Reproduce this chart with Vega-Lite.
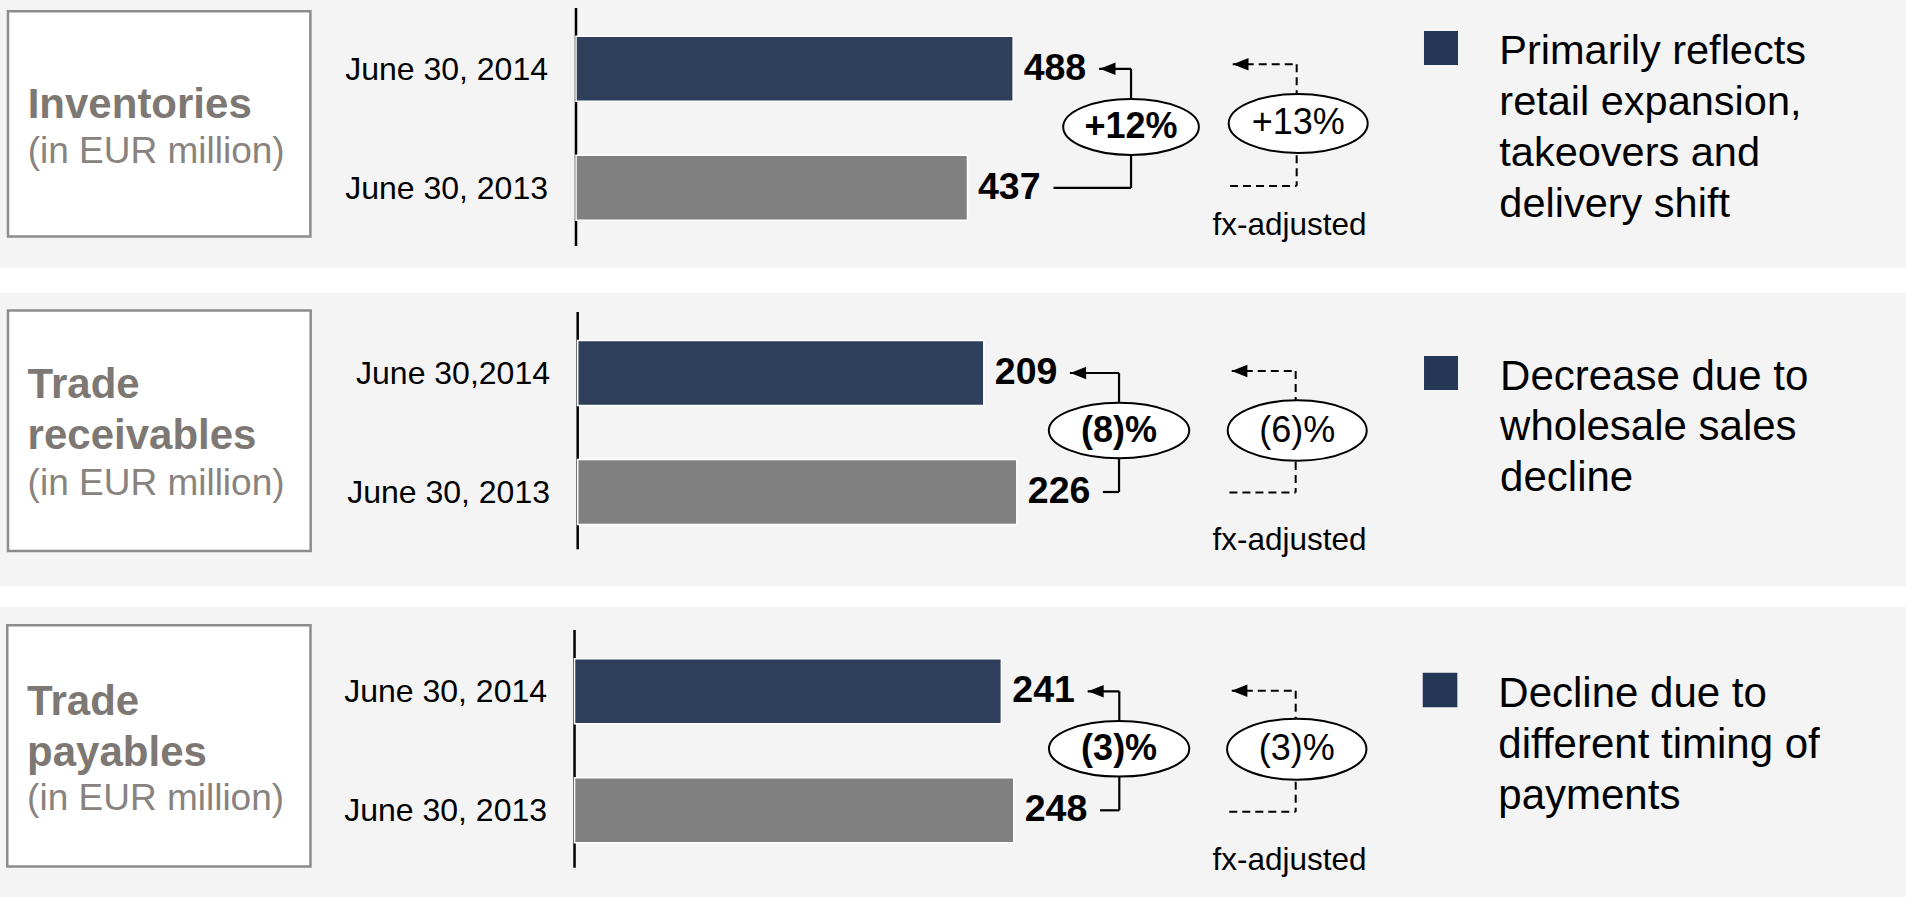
{
  "$schema": "https://vega.github.io/schema/vega-lite/v6.json",
  "background": "#ffffff",
  "padding": 0,
  "spacing": 0,
  "config": {"view": {"stroke": null}, "font": "Liberation Sans"},
  "resolve": {"scale": {"x": "independent", "y": "independent"}},
  "datasets": {
    "inv": [
      {"date": "June 30, 2014", "year": 2014, "value": 488},
      {"date": "June 30, 2013", "year": 2013, "value": 437}
    ],
    "inv_info": [
      {"title": ["Inventories"], "unit": "(in EUR million)", "reported": "+12%", "fx": "+13%", "fxLabel": "fx-adjusted", "desc": ["Primarily reflects", "retail expansion,", "takeovers and", "delivery shift"]}
    ],
    "rec": [
      {"date": "June 30,2014", "year": 2014, "value": 209},
      {"date": "June 30, 2013", "year": 2013, "value": 226}
    ],
    "rec_info": [
      {"title": ["Trade", "receivables"], "unit": "(in EUR million)", "reported": "(8)%", "fx": "(6)%", "fxLabel": "fx-adjusted", "desc": ["Decrease due to", "wholesale sales", "decline"]}
    ],
    "pay": [
      {"date": "June 30, 2014", "year": 2014, "value": 241},
      {"date": "June 30, 2013", "year": 2013, "value": 248}
    ],
    "pay_info": [
      {"title": ["Trade", "payables"], "unit": "(in EUR million)", "reported": "(3)%", "fx": "(3)%", "fxLabel": "fx-adjusted", "desc": ["Decline due to", "different timing of", "payments"]}
    ]
  },
  "vconcat": [
    {
      "width": 1906, "height": 268,
      "view": {"fill": "#f4f4f4", "stroke": null},
      "layer": [
        {"data": {"name": "inv_info"}, "mark": {"type": "point", "shape": "M-1,-0.7447L1,-0.7447L1,0.7447L-1,0.7447Z", "size": 91446, "filled": true, "fill": "#ffffff", "stroke": "#8c8c8c", "strokeWidth": 2.5, "opacity": 1, "yOffset": 55.05},
         "encoding": {"x": {"datum": -465.3, "type": "quantitative", "axis": null}, "y": {"datum": "June 30, 2014", "type": "nominal", "axis": null}}},
        {"data": {"name": "inv_info"}, "mark": {"type": "text", "align": "left", "baseline": "alphabetic", "fontSize": 42, "fontWeight": "bold", "color": "#7d7873", "lineHeight": 51, "dy": 49.5},
         "encoding": {"x": {"datum": -612.1, "type": "quantitative", "axis": null}, "y": {"datum": "June 30, 2014", "type": "nominal", "axis": null}, "text": {"field": "title", "type": "nominal"}}},
        {"data": {"name": "inv_info"}, "mark": {"type": "text", "align": "left", "baseline": "alphabetic", "fontSize": 37, "color": "#88837e", "dy": 94.5},
         "encoding": {"x": {"datum": -612.1, "type": "quantitative", "axis": null}, "y": {"datum": "June 30, 2014", "type": "nominal", "axis": null}, "text": {"field": "unit", "type": "nominal"}}},
        {"data": {"name": "inv_info"}, "mark": {"type": "rule", "color": "#000000", "strokeWidth": 2.5, "yOffset": -60.8, "y2Offset": 58.2},
         "encoding": {"x": {"datum": 0, "type": "quantitative", "axis": null}, "y": {"datum": "June 30, 2014", "type": "nominal", "axis": null}, "y2": {"datum": "June 30, 2013"}}},
        {"data": {"name": "inv"}, "mark": {"type": "bar", "size": 65, "stroke": "#ffffff", "strokeWidth": 1.5},
         "encoding": {
           "x": {"field": "value", "type": "quantitative", "scale": {"domain": [-643.0, 1484.7], "nice": false, "zero": false}, "axis": null},
           "x2": {"datum": 0},
           "y": {"field": "date", "type": "nominal", "sort": null, "scale": {"type": "point", "domain": ["June 30, 2014", "June 30, 2013"], "padding": 0.6261, "align": 0.4617}, "axis": null},
           "color": {"field": "year", "type": "ordinal", "scale": {"domain": [2014, 2013], "range": ["#2d3f5b", "#808080"]}, "legend": null}
         }},
        {"data": {"name": "inv"}, "mark": {"type": "text", "align": "right", "baseline": "alphabetic", "fontSize": 32, "color": "#000000", "dx": -28, "dy": 11},
         "encoding": {"x": {"datum": 0, "type": "quantitative", "axis": null}, "y": {"field": "date", "type": "nominal", "axis": null}, "text": {"field": "date", "type": "nominal"}}},
        {"data": {"name": "inv"}, "mark": {"type": "text", "align": "left", "baseline": "alphabetic", "fontSize": 37.5, "fontWeight": "bold", "color": "#000000", "dx": 10.5, "dy": 11},
         "encoding": {"x": {"field": "value", "type": "quantitative", "axis": null}, "y": {"field": "date", "type": "nominal", "axis": null}, "text": {"field": "value", "type": "quantitative", "format": "d"}}},
        {"data": {"name": "inv"}, "mark": {"type": "rule", "color": "#000000", "strokeWidth": 2.2, "xOffset": 86},
         "encoding": {"x": {"field": "value", "type": "quantitative", "axis": null}, "x2": {"datum": 619.6}, "y": {"field": "date", "type": "nominal", "axis": null}}},
        {"data": {"name": "inv_info"}, "mark": {"type": "rule", "color": "#000000", "strokeWidth": 2.2},
         "encoding": {"x": {"datum": 619.6, "type": "quantitative", "axis": null}, "y": {"datum": "June 30, 2014", "type": "nominal", "axis": null}, "y2": {"datum": "June 30, 2013"}}},
        {"data": {"name": "inv"}, "transform": [{"filter": "datum.year == 2014"}], "mark": {"type": "point", "shape": "M-1,0L1,-0.79L1,0.79Z", "size": 246, "filled": true, "color": "#000000", "opacity": 1, "xOffset": 94.5},
         "encoding": {"x": {"field": "value", "type": "quantitative", "axis": null}, "y": {"field": "date", "type": "nominal", "axis": null}}},
        {"data": {"name": "inv_info"}, "mark": {"type": "point", "shape": "M-1,0C-1,-0.2279,-0.5523,-0.4127,0,-0.4127C0.5523,-0.4127,1,-0.2279,1,0C1,0.2279,0.5523,0.4127,0,0.4127C-0.5523,0.4127,-1,0.2279,-1,0Z", "size": 18414, "filled": true, "fill": "#ffffff", "stroke": "#000000", "strokeWidth": 2, "opacity": 1, "yOffset": 58.2},
         "encoding": {"x": {"datum": 619.6, "type": "quantitative", "axis": null}, "y": {"datum": "June 30, 2014", "type": "nominal", "axis": null}}},
        {"data": {"name": "inv_info"}, "mark": {"type": "text", "align": "center", "baseline": "middle", "fontSize": 36, "fontWeight": "bold", "color": "#000000", "dy": 58.2},
         "encoding": {"x": {"datum": 619.6, "type": "quantitative", "axis": null}, "y": {"datum": "June 30, 2014", "type": "nominal", "axis": null}, "text": {"field": "reported", "type": "nominal"}}},
        {"data": {"name": "inv_info"}, "mark": {"type": "rule", "color": "#000000", "strokeWidth": 2, "strokeDash": [8, 5], "yOffset": -4.5, "y2Offset": -1.8},
         "encoding": {"x": {"datum": 804.5, "type": "quantitative", "axis": null}, "y": {"datum": "June 30, 2014", "type": "nominal", "axis": null}, "y2": {"datum": "June 30, 2013"}}},
        {"data": {"name": "inv_info"}, "mark": {"type": "rule", "color": "#000000", "strokeWidth": 2, "strokeDash": [8, 5], "yOffset": -4.5},
         "encoding": {"x": {"datum": 733.1, "type": "quantitative", "axis": null}, "x2": {"datum": 804.5}, "y": {"datum": "June 30, 2014", "type": "nominal", "axis": null}}},
        {"data": {"name": "inv_info"}, "mark": {"type": "rule", "color": "#000000", "strokeWidth": 2, "strokeDash": [8, 5], "yOffset": -1.8},
         "encoding": {"x": {"datum": 730.1, "type": "quantitative", "axis": null}, "x2": {"datum": 804.5}, "y": {"datum": "June 30, 2013", "type": "nominal", "axis": null}}},
        {"data": {"name": "inv_info"}, "mark": {"type": "point", "shape": "M-1,0L1,-0.79L1,0.79Z", "size": 246, "filled": true, "color": "#000000", "opacity": 1, "yOffset": -4.5},
         "encoding": {"x": {"datum": 742.0, "type": "quantitative", "axis": null}, "y": {"datum": "June 30, 2014", "type": "nominal", "axis": null}}},
        {"data": {"name": "inv_info"}, "mark": {"type": "point", "shape": "M-1,0C-1,-0.2345,-0.5523,-0.4245,0,-0.4245C0.5523,-0.4245,1,-0.2345,1,0C1,0.2345,0.5523,0.4245,0,0.4245C-0.5523,0.4245,-1,0.2345,-1,0Z", "size": 19321, "filled": true, "fill": "#ffffff", "stroke": "#000000", "strokeWidth": 2, "opacity": 1, "yOffset": 54.7},
         "encoding": {"x": {"datum": 806.2, "type": "quantitative", "axis": null}, "y": {"datum": "June 30, 2014", "type": "nominal", "axis": null}}},
        {"data": {"name": "inv_info"}, "mark": {"type": "text", "align": "center", "baseline": "middle", "fontSize": 36, "color": "#000000", "dy": 54.7},
         "encoding": {"x": {"datum": 806.2, "type": "quantitative", "axis": null}, "y": {"datum": "June 30, 2014", "type": "nominal", "axis": null}, "text": {"field": "fx", "type": "nominal"}}},
        {"data": {"name": "inv_info"}, "mark": {"type": "text", "align": "center", "baseline": "alphabetic", "fontSize": 31.5, "color": "#000000", "dy": 47.2},
         "encoding": {"x": {"datum": 796.6, "type": "quantitative", "axis": null}, "y": {"datum": "June 30, 2013", "type": "nominal", "axis": null}, "text": {"field": "fxLabel", "type": "nominal"}}},
        {"data": {"name": "inv_info"}, "mark": {"type": "point", "shape": "square", "size": 1156, "filled": true, "color": "#253757", "opacity": 1, "yOffset": -20.8},
         "encoding": {"x": {"datum": 965.6, "type": "quantitative", "axis": null}, "y": {"datum": "June 30, 2014", "type": "nominal", "axis": null}}},
        {"data": {"name": "inv_info"}, "mark": {"type": "text", "align": "left", "baseline": "alphabetic", "fontSize": 41.5, "color": "#000000", "lineHeight": 51, "dy": -4.8},
         "encoding": {"x": {"datum": 1030.7, "type": "quantitative", "axis": null}, "y": {"datum": "June 30, 2014", "type": "nominal", "axis": null}, "text": {"field": "desc", "type": "nominal"}}}
      ]
    },
    {
      "width": 1906, "height": 25,
      "data": {"name": "inv_info"},
      "mark": {"type": "text", "text": " "},
      "encoding": {}
    },
    {
      "width": 1906, "height": 293,
      "view": {"fill": "#f4f4f4", "stroke": null},
      "layer": [
        {"data": {"name": "rec_info"}, "mark": {"type": "point", "shape": "M-1,-0.7945L1,-0.7945L1,0.7945L-1,0.7945Z", "size": 91627, "filled": true, "fill": "#ffffff", "stroke": "#8c8c8c", "strokeWidth": 2.5, "opacity": 1, "yOffset": 57.8},
         "encoding": {"x": {"datum": -215.3, "type": "quantitative", "axis": null}, "y": {"datum": "June 30,2014", "type": "nominal", "axis": null}}},
        {"data": {"name": "rec_info"}, "mark": {"type": "text", "align": "left", "baseline": "alphabetic", "fontSize": 42, "fontWeight": "bold", "color": "#7d7873", "lineHeight": 51, "dy": 25.3},
         "encoding": {"x": {"datum": -283.1, "type": "quantitative", "axis": null}, "y": {"datum": "June 30,2014", "type": "nominal", "axis": null}, "text": {"field": "title", "type": "nominal"}}},
        {"data": {"name": "rec_info"}, "mark": {"type": "text", "align": "left", "baseline": "alphabetic", "fontSize": 37, "color": "#88837e", "dy": 122},
         "encoding": {"x": {"datum": -283.1, "type": "quantitative", "axis": null}, "y": {"datum": "June 30,2014", "type": "nominal", "axis": null}, "text": {"field": "unit", "type": "nominal"}}},
        {"data": {"name": "rec_info"}, "mark": {"type": "rule", "color": "#000000", "strokeWidth": 2.5, "yOffset": -61, "y2Offset": 57.3},
         "encoding": {"x": {"datum": 0, "type": "quantitative", "axis": null}, "y": {"datum": "June 30,2014", "type": "nominal", "axis": null}, "y2": {"datum": "June 30, 2013"}}},
        {"data": {"name": "rec"}, "mark": {"type": "bar", "size": 65, "stroke": "#ffffff", "strokeWidth": 1.5},
         "encoding": {
           "x": {"field": "value", "type": "quantitative", "scale": {"domain": [-297.3, 683.6], "nice": false, "zero": false}, "axis": null},
           "x2": {"datum": 0},
           "y": {"field": "date", "type": "nominal", "sort": null, "scale": {"type": "point", "domain": ["June 30,2014", "June 30, 2013"], "padding": 0.7311, "align": 0.4598}, "axis": null},
           "color": {"field": "year", "type": "ordinal", "scale": {"domain": [2014, 2013], "range": ["#2d3f5b", "#808080"]}, "legend": null}
         }},
        {"data": {"name": "rec"}, "mark": {"type": "text", "align": "right", "baseline": "alphabetic", "fontSize": 32, "color": "#000000", "dx": -27.7, "dy": 11},
         "encoding": {"x": {"datum": 0, "type": "quantitative", "axis": null}, "y": {"field": "date", "type": "nominal", "axis": null}, "text": {"field": "date", "type": "nominal"}}},
        {"data": {"name": "rec"}, "mark": {"type": "text", "align": "left", "baseline": "alphabetic", "fontSize": 37.5, "fontWeight": "bold", "color": "#000000", "dx": 11, "dy": 11.3},
         "encoding": {"x": {"field": "value", "type": "quantitative", "axis": null}, "y": {"field": "date", "type": "nominal", "axis": null}, "text": {"field": "value", "type": "quantitative", "format": "d"}}},
        {"data": {"name": "rec"}, "mark": {"type": "rule", "color": "#000000", "strokeWidth": 2.2, "xOffset": 86},
         "encoding": {"x": {"field": "value", "type": "quantitative", "axis": null}, "x2": {"datum": 278.6}, "y": {"field": "date", "type": "nominal", "axis": null}}},
        {"data": {"name": "rec_info"}, "mark": {"type": "rule", "color": "#000000", "strokeWidth": 2.2},
         "encoding": {"x": {"datum": 278.6, "type": "quantitative", "axis": null}, "y": {"datum": "June 30,2014", "type": "nominal", "axis": null}, "y2": {"datum": "June 30, 2013"}}},
        {"data": {"name": "rec"}, "transform": [{"filter": "datum.year == 2014"}], "mark": {"type": "point", "shape": "M-1,0L1,-0.79L1,0.79Z", "size": 246, "filled": true, "color": "#000000", "opacity": 1, "xOffset": 94.5},
         "encoding": {"x": {"field": "value", "type": "quantitative", "axis": null}, "y": {"field": "date", "type": "nominal", "axis": null}}},
        {"data": {"name": "rec_info"}, "mark": {"type": "point", "shape": "M-1,0C-1,-0.2187,-0.5523,-0.396,0,-0.396C0.5523,-0.396,1,-0.2187,1,0C1,0.2187,0.5523,0.396,0,0.396C-0.5523,0.396,-1,0.2187,-1,0Z", "size": 19712, "filled": true, "fill": "#ffffff", "stroke": "#000000", "strokeWidth": 2, "opacity": 1, "yOffset": 57.5},
         "encoding": {"x": {"datum": 278.6, "type": "quantitative", "axis": null}, "y": {"datum": "June 30,2014", "type": "nominal", "axis": null}}},
        {"data": {"name": "rec_info"}, "mark": {"type": "text", "align": "center", "baseline": "middle", "fontSize": 36, "fontWeight": "bold", "color": "#000000", "dy": 57.5},
         "encoding": {"x": {"datum": 278.6, "type": "quantitative", "axis": null}, "y": {"datum": "June 30,2014", "type": "nominal", "axis": null}, "text": {"field": "reported", "type": "nominal"}}},
        {"data": {"name": "rec_info"}, "mark": {"type": "rule", "color": "#000000", "strokeWidth": 2, "strokeDash": [8, 5], "yOffset": -2, "y2Offset": 0.6},
         "encoding": {"x": {"datum": 369.5, "type": "quantitative", "axis": null}, "y": {"datum": "June 30,2014", "type": "nominal", "axis": null}, "y2": {"datum": "June 30, 2013"}}},
        {"data": {"name": "rec_info"}, "mark": {"type": "rule", "color": "#000000", "strokeWidth": 2, "strokeDash": [8, 5], "yOffset": -2},
         "encoding": {"x": {"datum": 336.6, "type": "quantitative", "axis": null}, "x2": {"datum": 369.5}, "y": {"datum": "June 30,2014", "type": "nominal", "axis": null}}},
        {"data": {"name": "rec_info"}, "mark": {"type": "rule", "color": "#000000", "strokeWidth": 2, "strokeDash": [8, 5], "yOffset": 0.6},
         "encoding": {"x": {"datum": 335.4, "type": "quantitative", "axis": null}, "x2": {"datum": 369.5}, "y": {"datum": "June 30, 2013", "type": "nominal", "axis": null}}},
        {"data": {"name": "rec_info"}, "mark": {"type": "point", "shape": "M-1,0L1,-0.79L1,0.79Z", "size": 246, "filled": true, "color": "#000000", "opacity": 1, "yOffset": -2},
         "encoding": {"x": {"datum": 340.6, "type": "quantitative", "axis": null}, "y": {"datum": "June 30,2014", "type": "nominal", "axis": null}}},
        {"data": {"name": "rec_info"}, "mark": {"type": "point", "shape": "M-1,0C-1,-0.24,-0.5523,-0.4345,0,-0.4345C0.5523,-0.4345,1,-0.24,1,0C1,0.24,0.5523,0.4345,0,0.4345C-0.5523,0.4345,-1,0.24,-1,0Z", "size": 19321, "filled": true, "fill": "#ffffff", "stroke": "#000000", "strokeWidth": 2, "opacity": 1, "yOffset": 57.5},
         "encoding": {"x": {"datum": 370.3, "type": "quantitative", "axis": null}, "y": {"datum": "June 30,2014", "type": "nominal", "axis": null}}},
        {"data": {"name": "rec_info"}, "mark": {"type": "text", "align": "center", "baseline": "middle", "fontSize": 36, "color": "#000000", "dy": 57.5},
         "encoding": {"x": {"datum": 370.3, "type": "quantitative", "axis": null}, "y": {"datum": "June 30,2014", "type": "nominal", "axis": null}, "text": {"field": "fx", "type": "nominal"}}},
        {"data": {"name": "rec_info"}, "mark": {"type": "text", "align": "center", "baseline": "alphabetic", "fontSize": 31.5, "color": "#000000", "dy": 58},
         "encoding": {"x": {"datum": 366.3, "type": "quantitative", "axis": null}, "y": {"datum": "June 30, 2013", "type": "nominal", "axis": null}, "text": {"field": "fxLabel", "type": "nominal"}}},
        {"data": {"name": "rec_info"}, "mark": {"type": "point", "shape": "square", "size": 1156, "filled": true, "color": "#253757", "opacity": 1, "yOffset": 0},
         "encoding": {"x": {"datum": 444.3, "type": "quantitative", "axis": null}, "y": {"datum": "June 30,2014", "type": "nominal", "axis": null}}},
        {"data": {"name": "rec_info"}, "mark": {"type": "text", "align": "left", "baseline": "alphabetic", "fontSize": 42, "color": "#000000", "lineHeight": 50.3, "dy": 17},
         "encoding": {"x": {"datum": 474.7, "type": "quantitative", "axis": null}, "y": {"datum": "June 30,2014", "type": "nominal", "axis": null}, "text": {"field": "desc", "type": "nominal"}}}
      ]
    },
    {
      "width": 1906, "height": 21,
      "data": {"name": "rec_info"},
      "mark": {"type": "text", "text": " "},
      "encoding": {}
    },
    {
      "width": 1906, "height": 290,
      "view": {"fill": "#f4f4f4", "stroke": null},
      "layer": [
        {"data": {"name": "pay_info"}, "mark": {"type": "point", "shape": "M-1,-0.7955L1,-0.7955L1,0.7955L-1,0.7955Z", "size": 91930, "filled": true, "fill": "#ffffff", "stroke": "#8c8c8c", "strokeWidth": 2.5, "opacity": 1, "yOffset": 54.55},
         "encoding": {"x": {"datum": -234.7, "type": "quantitative", "axis": null}, "y": {"datum": "June 30, 2014", "type": "nominal", "axis": null}}},
        {"data": {"name": "pay_info"}, "mark": {"type": "text", "align": "left", "baseline": "alphabetic", "fontSize": 42, "fontWeight": "bold", "color": "#7d7873", "lineHeight": 50.7, "dy": 23.7},
         "encoding": {"x": {"datum": -309.1, "type": "quantitative", "axis": null}, "y": {"datum": "June 30, 2014", "type": "nominal", "axis": null}, "text": {"field": "title", "type": "nominal"}}},
        {"data": {"name": "pay_info"}, "mark": {"type": "text", "align": "left", "baseline": "alphabetic", "fontSize": 37, "color": "#88837e", "dy": 118.7},
         "encoding": {"x": {"datum": -309.1, "type": "quantitative", "axis": null}, "y": {"datum": "June 30, 2014", "type": "nominal", "axis": null}, "text": {"field": "unit", "type": "nominal"}}},
        {"data": {"name": "pay_info"}, "mark": {"type": "rule", "color": "#000000", "strokeWidth": 2.5, "yOffset": -61.3, "y2Offset": 57.4},
         "encoding": {"x": {"datum": 0, "type": "quantitative", "axis": null}, "y": {"datum": "June 30, 2014", "type": "nominal", "axis": null}, "y2": {"datum": "June 30, 2013"}}},
        {"data": {"name": "pay"}, "mark": {"type": "bar", "size": 65, "stroke": "#ffffff", "strokeWidth": 1.5},
         "encoding": {
           "x": {"field": "value", "type": "quantitative", "scale": {"domain": [-324.4, 751.8], "nice": false, "zero": false}, "axis": null},
           "x2": {"datum": 0},
           "y": {"field": "date", "type": "nominal", "sort": null, "scale": {"type": "point", "domain": ["June 30, 2014", "June 30, 2013"], "padding": 0.7185, "align": 0.493}, "axis": null},
           "color": {"field": "year", "type": "ordinal", "scale": {"domain": [2014, 2013], "range": ["#2d3f5b", "#808080"]}, "legend": null}
         }},
        {"data": {"name": "pay"}, "mark": {"type": "text", "align": "right", "baseline": "alphabetic", "fontSize": 32, "color": "#000000", "dx": -27.5, "dy": 10.4},
         "encoding": {"x": {"datum": 0, "type": "quantitative", "axis": null}, "y": {"field": "date", "type": "nominal", "axis": null}, "text": {"field": "date", "type": "nominal"}}},
        {"data": {"name": "pay"}, "mark": {"type": "text", "align": "left", "baseline": "alphabetic", "fontSize": 37.5, "fontWeight": "bold", "color": "#000000", "dx": 11, "dy": 11},
         "encoding": {"x": {"field": "value", "type": "quantitative", "axis": null}, "y": {"field": "date", "type": "nominal", "axis": null}, "text": {"field": "value", "type": "quantitative", "format": "d"}}},
        {"data": {"name": "pay"}, "mark": {"type": "rule", "color": "#000000", "strokeWidth": 2.2, "xOffset": 86.3},
         "encoding": {"x": {"field": "value", "type": "quantitative", "axis": null}, "x2": {"datum": 307.6}, "y": {"field": "date", "type": "nominal", "axis": null}}},
        {"data": {"name": "pay_info"}, "mark": {"type": "rule", "color": "#000000", "strokeWidth": 2.2},
         "encoding": {"x": {"datum": 307.6, "type": "quantitative", "axis": null}, "y": {"datum": "June 30, 2014", "type": "nominal", "axis": null}, "y2": {"datum": "June 30, 2013"}}},
        {"data": {"name": "pay"}, "transform": [{"filter": "datum.year == 2014"}], "mark": {"type": "point", "shape": "M-1,0L1,-0.79L1,0.79Z", "size": 246, "filled": true, "color": "#000000", "opacity": 1, "xOffset": 94.5},
         "encoding": {"x": {"field": "value", "type": "quantitative", "axis": null}, "y": {"field": "date", "type": "nominal", "axis": null}}},
        {"data": {"name": "pay_info"}, "mark": {"type": "point", "shape": "M-1,0C-1,-0.2187,-0.5523,-0.396,0,-0.396C0.5523,-0.396,1,-0.2187,1,0C1,0.2187,0.5523,0.396,0,0.396C-0.5523,0.396,-1,0.2187,-1,0Z", "size": 19712, "filled": true, "fill": "#ffffff", "stroke": "#000000", "strokeWidth": 2, "opacity": 1, "yOffset": 57.5},
         "encoding": {"x": {"datum": 307.5, "type": "quantitative", "axis": null}, "y": {"datum": "June 30, 2014", "type": "nominal", "axis": null}}},
        {"data": {"name": "pay_info"}, "mark": {"type": "text", "align": "center", "baseline": "middle", "fontSize": 36, "fontWeight": "bold", "color": "#000000", "dy": 57.5},
         "encoding": {"x": {"datum": 307.5, "type": "quantitative", "axis": null}, "y": {"datum": "June 30, 2014", "type": "nominal", "axis": null}, "text": {"field": "reported", "type": "nominal"}}},
        {"data": {"name": "pay_info"}, "mark": {"type": "rule", "color": "#000000", "strokeWidth": 2, "strokeDash": [8, 5], "yOffset": -0.6, "y2Offset": 1.4},
         "encoding": {"x": {"datum": 407.2, "type": "quantitative", "axis": null}, "y": {"datum": "June 30, 2014", "type": "nominal", "axis": null}, "y2": {"datum": "June 30, 2013"}}},
        {"data": {"name": "pay_info"}, "mark": {"type": "rule", "color": "#000000", "strokeWidth": 2, "strokeDash": [8, 5], "yOffset": -0.6},
         "encoding": {"x": {"datum": 371.1, "type": "quantitative", "axis": null}, "x2": {"datum": 407.2}, "y": {"datum": "June 30, 2014", "type": "nominal", "axis": null}}},
        {"data": {"name": "pay_info"}, "mark": {"type": "rule", "color": "#000000", "strokeWidth": 2, "strokeDash": [8, 5], "yOffset": 1.4},
         "encoding": {"x": {"datum": 369.7, "type": "quantitative", "axis": null}, "x2": {"datum": 407.2}, "y": {"datum": "June 30, 2013", "type": "nominal", "axis": null}}},
        {"data": {"name": "pay_info"}, "mark": {"type": "point", "shape": "M-1,0L1,-0.79L1,0.79Z", "size": 246, "filled": true, "color": "#000000", "opacity": 1, "yOffset": -0.6},
         "encoding": {"x": {"datum": 375.5, "type": "quantitative", "axis": null}, "y": {"datum": "June 30, 2014", "type": "nominal", "axis": null}}},
        {"data": {"name": "pay_info"}, "mark": {"type": "point", "shape": "M-1,0C-1,-0.2417,-0.5523,-0.4376,0,-0.4376C0.5523,-0.4376,1,-0.2417,1,0C1,0.2417,0.5523,0.4376,0,0.4376C-0.5523,0.4376,-1,0.2417,-1,0Z", "size": 19432, "filled": true, "fill": "#ffffff", "stroke": "#000000", "strokeWidth": 2, "opacity": 1, "yOffset": 57.9},
         "encoding": {"x": {"datum": 407.8, "type": "quantitative", "axis": null}, "y": {"datum": "June 30, 2014", "type": "nominal", "axis": null}}},
        {"data": {"name": "pay_info"}, "mark": {"type": "text", "align": "center", "baseline": "middle", "fontSize": 36, "color": "#000000", "dy": 57.9},
         "encoding": {"x": {"datum": 407.8, "type": "quantitative", "axis": null}, "y": {"datum": "June 30, 2014", "type": "nominal", "axis": null}, "text": {"field": "fx", "type": "nominal"}}},
        {"data": {"name": "pay_info"}, "mark": {"type": "text", "align": "center", "baseline": "alphabetic", "fontSize": 31.5, "color": "#000000", "dy": 59.7},
         "encoding": {"x": {"datum": 403.7, "type": "quantitative", "axis": null}, "y": {"datum": "June 30, 2013", "type": "nominal", "axis": null}, "text": {"field": "fxLabel", "type": "nominal"}}},
        {"data": {"name": "pay_info"}, "mark": {"type": "point", "shape": "square", "size": 1197, "filled": true, "color": "#253757", "opacity": 1, "yOffset": -1.3},
         "encoding": {"x": {"datum": 488.7, "type": "quantitative", "axis": null}, "y": {"datum": "June 30, 2014", "type": "nominal", "axis": null}}},
        {"data": {"name": "pay_info"}, "mark": {"type": "text", "align": "left", "baseline": "alphabetic", "fontSize": 42, "color": "#000000", "lineHeight": 51, "dy": 15.4},
         "encoding": {"x": {"datum": 521.6, "type": "quantitative", "axis": null}, "y": {"datum": "June 30, 2014", "type": "nominal", "axis": null}, "text": {"field": "desc", "type": "nominal"}}}
      ]
    }
  ]
}
